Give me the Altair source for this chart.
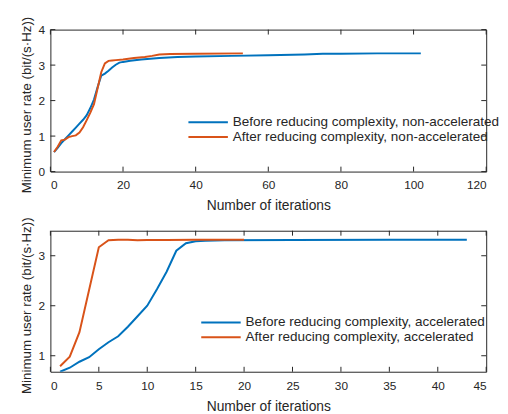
import altair as alt
import pandas as pd

# ---------------- data ----------------
top_labels = ["Before reducing complexity, non-accelerated",
              "After reducing complexity, non-accelerated"]
bot_labels = ["Before reducing complexity, accelerated",
              "After reducing complexity, accelerated"]

top_before_x = [1, 2, 3, 4, 5, 6, 7, 8, 9, 10, 11, 12, 13, 14, 15, 16, 17, 18, 19, 20,
                22, 25, 30, 35, 40, 50, 60, 70, 75, 80, 90, 102]
top_before_y = [0.55, 0.67, 0.80, 0.91, 1.02, 1.13, 1.24, 1.35, 1.46, 1.59, 1.79, 2.03,
                2.38, 2.70, 2.76, 2.84, 2.93, 3.01, 3.07, 3.09,
                3.12, 3.16, 3.20, 3.23, 3.24, 3.26, 3.28, 3.30, 3.32, 3.32, 3.33, 3.33]

top_after_x = [1, 2, 3, 4, 5, 6, 7, 8, 9, 10, 11, 12, 13, 14, 15, 16, 17, 18, 20,
               23, 26, 28, 30, 33, 40, 53]
top_after_y = [0.55, 0.70, 0.88, 0.90, 0.97, 1.00, 1.02, 1.10, 1.25, 1.45, 1.66, 1.90,
               2.35, 2.80, 3.05, 3.12, 3.13, 3.14, 3.16,
               3.20, 3.23, 3.26, 3.30, 3.31, 3.32, 3.33]

bot_before_x = [1, 2, 3, 4, 5, 6, 7, 8, 9, 10, 11, 12, 13, 14, 15, 16, 18, 25, 35, 43]
bot_before_y = [0.68, 0.76, 0.88, 0.97, 1.13, 1.27, 1.39, 1.58, 1.79, 2.00, 2.33, 2.68,
                3.10, 3.25, 3.29, 3.30, 3.31, 3.315, 3.32, 3.32]

bot_after_x = [1, 2, 3, 4, 5, 6, 7, 8, 9, 10, 12, 15, 20]
bot_after_y = [0.79, 0.98, 1.47, 2.32, 3.17, 3.31, 3.32, 3.32, 3.31, 3.315, 3.315, 3.32, 3.32]

top_xticks = [0, 20, 40, 60, 80, 100, 120]
top_yticks = [0, 1, 2, 3, 4]
bot_xticks = [0, 5, 10, 15, 20, 25, 30, 35, 40, 45]
bot_yticks = [1, 2, 3]

# ---------------- styling ----------------
FONT = "Liberation Sans"
GRAY = "#262626"
BLUE = "#0072BD"
ORANGE = "#D95319"
W = 442
H1, H2 = 144, 143
TICK = 5


def make_df(labels, bx, by, ax, ay):
    rows = [{"series": labels[0], "iter": x, "rate": y} for x, y in zip(bx, by)]
    rows += [{"series": labels[1], "iter": x, "rate": y} for x, y in zip(ax, ay)]
    return pd.DataFrame(rows)


def panel(df, labels, xdom, xticks, ydom, yticks, H, lx, ly, xlp):
    xscale = alt.Scale(domain=xdom, nice=False, zero=False)
    yscale = alt.Scale(domain=ydom, nice=False, zero=False)
    xaxis = alt.Axis(values=xticks, title="Number of iterations",
                     labelPadding=xlp, titlePadding=8, titleFontSize=14)
    yaxis = alt.Axis(values=yticks, title="Minimum user rate (bit/(s·Hz))",
                     labelPadding=6, titlePadding=5, titleFontSize=13.5,
                     titleY=H / 2 + 4)
    lines = alt.Chart(df).mark_line(strokeWidth=2, clip=True).encode(
        x=alt.X("iter:Q", scale=xscale, axis=xaxis),
        y=alt.Y("rate:Q", scale=yscale, axis=yaxis),
        color=alt.Color("series:N", sort=labels,
                        scale=alt.Scale(domain=labels, range=[BLUE, ORANGE]),
                        legend=alt.Legend(title=None, orient="none", legendX=lx, legendY=ly,
                                          symbolType="M-3,0H3", symbolSize=178,
                                          symbolStrokeWidth=2, labelFont=FONT,
                                          labelFontSize=13.7, labelColor=GRAY,
                                          labelLimit=0, labelOffset=17, padding=0,
                                          rowPadding=0)),
        order=alt.Order("iter:Q"),
    )
    xt = pd.DataFrame({"v": xticks})
    yt = pd.DataFrame({"v": yticks})
    bottom = alt.Chart(xt).mark_rule(color=GRAY, strokeWidth=1).encode(
        x=alt.X("v:Q", scale=xscale, axis=xaxis), y=alt.value(H), y2=alt.value(H - TICK))
    top = alt.Chart(xt).mark_rule(color=GRAY, strokeWidth=1).encode(
        x=alt.X("v:Q", scale=xscale, axis=xaxis), y=alt.value(0), y2=alt.value(TICK))
    left = alt.Chart(yt).mark_rule(color=GRAY, strokeWidth=1).encode(
        y=alt.Y("v:Q", scale=yscale, axis=yaxis), x=alt.value(0), x2=alt.value(TICK))
    right = alt.Chart(yt).mark_rule(color=GRAY, strokeWidth=1).encode(
        y=alt.Y("v:Q", scale=yscale, axis=yaxis), x=alt.value(W), x2=alt.value(W - TICK))
    return alt.layer(lines, bottom, top, left, right).properties(width=W, height=H)


top_df = make_df(top_labels, top_before_x, top_before_y, top_after_x, top_after_y)
bot_df = make_df(bot_labels, bot_before_x, bot_before_y, bot_after_x, bot_after_y)

p1 = panel(top_df, top_labels, [0, 120], top_xticks, [0, 4], top_yticks, H1, 152, 86, 8)
p2 = panel(bot_df, bot_labels, [0, 45], bot_xticks, [0.68, 3.5], bot_yticks, H2, 165, 85, 9)

chart = alt.vconcat(p1, p2, spacing=60, bounds="flush").resolve_scale(
    color="independent", x="independent", y="independent"
).properties(
    padding={"left": 10, "top": 4, "right": 0, "bottom": 0},
    background="white",
).configure_view(
    stroke=GRAY, strokeWidth=1
).configure_axis(
    labelFont=FONT, labelFontSize=12, labelColor=GRAY,
    titleFont=FONT, titleFontWeight="normal", titleColor=GRAY,
    ticks=False, tickSize=0, domain=False, grid=False,
)

chart.save("out.html", embed_options={"renderer": "svg", "actions": False})
